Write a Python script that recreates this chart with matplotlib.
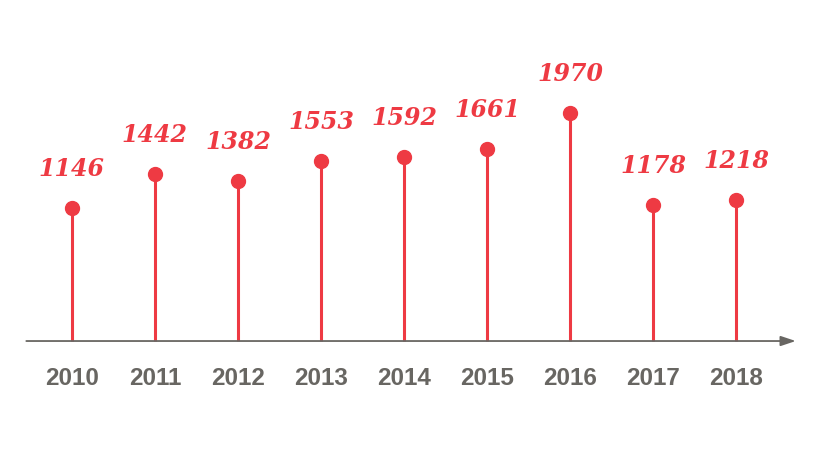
import numpy as np
import matplotlib.pyplot as plt

years = ['2010', '2011', '2012', '2013', '2014', '2015', '2016', '2017', '2018']
values = [1146, 1442, 1382, 1553, 1592, 1661, 1970, 1178, 1218]

red = '#EE3A43'
grey = '#686662'

fig = plt.figure(figsize=(8.19, 4.53), dpi=100)
ax = fig.add_axes([0, 0, 1, 1])
x = np.arange(len(years))

# stems with dots
markerline, stemlines, baseline = ax.stem(x, values, linefmt='-', markerfmt='o', basefmt=' ')
plt.setp(stemlines, color=red, linewidth=2.2)
plt.setp(markerline, color=red, markersize=10)

# value labels
for xi, v in zip(x, values):
    ax.annotate(str(v), (xi, v), xytext=(0, 28), textcoords='offset points',
                ha='center', va='center', color=red, fontsize=17,
                family='DejaVu Serif', style='italic', fontweight='bold')

# year labels
for xi, y in zip(x, years):
    ax.text(xi, -320, y, ha='center', va='center', color=grey,
            fontsize=17.5, fontweight='bold', family='Liberation Sans')

# axis with arrow
ax.annotate('', xy=(8.72, 0), xytext=(-0.55, 0),
            arrowprops=dict(arrowstyle='-|>,head_length=0.9,head_width=0.3',
                            color=grey, lw=1.3, shrinkA=0, shrinkB=0))

ax.set_xlim(-0.867, 9.0)
ax.set_ylim(-967, 2945)
ax.axis('off')

plt.savefig('out.png', dpi=100)
